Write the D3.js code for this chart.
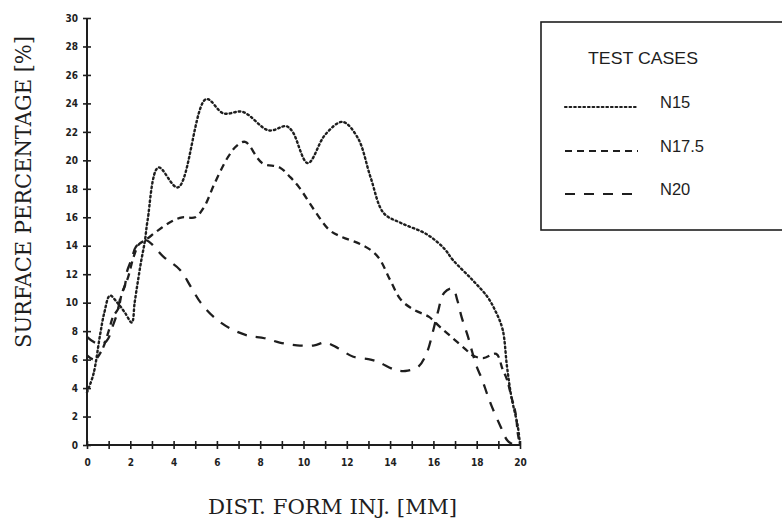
<!DOCTYPE html>
<html><head><meta charset="utf-8">
<script src="https://cdn.jsdelivr.net/npm/d3@7"></script>
<style>body{margin:0;background:#fff}svg{display:block}</style>
</head><body>
<svg id="c" width="782" height="520"></svg>
<script>
// ---- data ----
const n15X = [0,0.3,0.6,0.8,1.06,1.4,1.75,2.07,2.2,2.35,2.5,2.67,2.8,3.3,4.2,5.5,6.3,7.2,8.4,9.2,9.5,10.2,11.0,11.8,12.5,13.1,13.7,14.5,15.7,16.5,16.9,17.8,18.5,18.9,19.2,19.4,19.6,19.9,20];
const n15Y = [3.7,5.0,7.7,9.3,10.5,10.0,9.3,8.6,10.0,11.5,12.9,14.3,15.8,19.5,18.1,24.3,23.3,23.4,22.1,22.4,22.0,19.8,21.8,22.7,21.6,18.8,16.3,15.6,14.8,13.8,13.0,11.6,10.4,9.3,8.1,5.5,3.4,1.3,0];
const n175X = [0,0.35,0.7,1.0,1.2,1.45,1.6,1.9,2.15,2.4,2.7,3.3,3.9,4.4,5.0,5.4,5.9,6.5,6.9,7.3,8.1,8.9,9.4,9.8,10.5,11.2,11.8,12.5,13.1,13.5,14.0,14.5,15.1,15.8,16.3,16.9,17.5,17.8,18.3,18.9,19.2,19.4,19.6,19.8,19.9,20];
const n175Y = [6.3,6.0,6.7,8.0,9.0,9.6,10.6,11.8,13.2,14.1,14.4,15.1,15.7,16.0,16.0,16.7,18.4,20.2,21.0,21.3,19.8,19.5,18.8,18.1,16.5,15.1,14.6,14.2,13.7,13.1,11.6,10.2,9.5,9.0,8.3,7.5,6.7,6.3,6.1,6.4,5.3,4.6,3.4,2.2,0.8,0];
const n20X = [0,0.5,0.9,1.2,1.4,1.55,1.75,1.85,2.07,2.25,2.7,3.55,4.3,4.8,5.25,5.85,6.6,7.4,8.2,8.9,9.7,10.5,11.0,11.6,12.3,13.1,13.5,14.2,14.7,15.3,15.7,16.0,16.2,16.5,16.9,17.1,17.3,17.6,17.8,18.0,18.25,18.5,18.7,19.1,19.4,19.6,20];
const n20Y = [7.6,7.1,7.3,8.4,9.3,10.4,11.2,12.2,13.1,13.9,14.4,13.2,12.3,11.1,10.0,9.0,8.2,7.7,7.5,7.2,7.0,7.0,7.2,6.8,6.2,6.0,5.8,5.3,5.2,5.5,6.5,8.1,9.3,10.7,11.0,10.2,9.0,7.6,6.5,5.5,4.6,3.5,2.7,1.3,0.35,0.1,0];
const seriesNames = ["N15","N17.5","N20"];
const xTicks = [0,2,4,6,8,10,12,14,16,18,20];
const xMinorTicks = [0,1,2,3,4,5,6,7,8,9,10,11,12,13,14,15,16,17,18,19,20];
const yTicks = [0,2,4,6,8,10,12,14,16,18,20,22,24,26,28,30];
const xTitle = "DIST. FORM INJ. [MM]";
const yTitle = "SURFACE PERCENTAGE [%]";
const legendTitle = "TEST CASES";

// ---- drawing ----
const svg = d3.select("#c");
const ink = "#1e1e1e";
const x = d3.scaleLinear().domain([0,20]).range([87,520]);
const y = d3.scaleLinear().domain([0,30]).range([445,18]);
const dashes = ["1.6,3", "7,5", "10,9"];

const series = [
  {name: seriesNames[0], xs: n15X, ys: n15Y},
  {name: seriesNames[1], xs: n175X, ys: n175Y},
  {name: seriesNames[2], xs: n20X, ys: n20Y}
];

const line = d3.line().x(d=>x(d[0])).y(d=>y(d[1])).curve(d3.curveCatmullRom.alpha(0.5));
series.forEach((s,i)=>{
  const pts = s.xs.map((v,k)=>[v, s.ys[k]]);
  svg.append("path").attr("d", line(pts)).attr("fill","none")
    .attr("stroke", ink).attr("stroke-width", i===0?2.4:2.3)
    .attr("stroke-dasharray", dashes[i]).attr("stroke-linecap", i===0?"round":"butt");
});

// axes
const fontTick = "'DejaVu Sans Condensed','DejaVu Sans',sans-serif";
const yAxis = svg.append("g").attr("transform",`translate(${x(0)},0)`)
  .call(d3.axisLeft(y).tickValues(yTicks).tickSize(4).tickPadding(6).tickFormat(d3.format("d")));
yAxis.select(".domain").attr("d", `M0,${y(30)}V${y(0)}`).attr("stroke",ink).attr("stroke-width",2);
yAxis.selectAll(".tick line").attr("x1",4).attr("x2",-4).attr("stroke",ink).attr("stroke-width",1.6);
yAxis.selectAll(".tick text").attr("font-family",fontTick).attr("font-weight","bold").attr("font-size",10).attr("fill",ink).attr("x",-9);

const xAxisMinor = svg.append("g").attr("transform",`translate(0,${y(0)})`)
  .call(d3.axisBottom(x).tickValues(xMinorTicks).tickSize(4).tickFormat(""));
xAxisMinor.select(".domain").attr("d", `M${x(0)},0H${x(20)}`).attr("stroke",ink).attr("stroke-width",2);
xAxisMinor.selectAll(".tick line").attr("y1",-4).attr("y2",4).attr("stroke",ink).attr("stroke-width",1.6);
const xAxis = svg.append("g").attr("transform",`translate(0,${y(0)})`)
  .call(d3.axisBottom(x).tickValues(xTicks).tickSize(0).tickPadding(14).tickFormat(d3.format("d")));
xAxis.select(".domain").remove();
xAxis.selectAll(".tick text").attr("font-family",fontTick).attr("font-weight","bold").attr("font-size",10).attr("fill",ink);

// titles
svg.append("text").attr("x",208).attr("y",514).attr("font-family","'DejaVu Serif',serif").attr("font-size",20)
  .attr("fill",ink).attr("textLength",249).attr("lengthAdjust","spacingAndGlyphs").text(xTitle);
svg.append("text").attr("transform","translate(31,348) rotate(-90)").attr("font-family","'DejaVu Serif',serif").attr("font-size",23)
  .attr("fill",ink).attr("textLength",312).attr("lengthAdjust","spacingAndGlyphs").text(yTitle);

// legend
const lg = svg.append("g");
lg.append("rect").attr("x",541).attr("y",22).attr("width",260).attr("height",208)
  .attr("fill","none").attr("stroke",ink).attr("stroke-width",1.6);
lg.append("text").attr("x",588).attr("y",64).attr("font-family","'Liberation Sans',Arial,sans-serif").attr("font-size",16.5)
  .attr("fill",ink).attr("textLength",110).attr("lengthAdjust","spacingAndGlyphs").text(legendTitle);
const legYs = [107,151,194];
series.forEach((s,i)=>{
  lg.append("line").attr("x1",565).attr("x2",638).attr("y1",legYs[i]).attr("y2",legYs[i])
    .attr("stroke",ink).attr("stroke-width",2.2).attr("stroke-dasharray",dashes[i]).attr("stroke-linecap", i===0?"round":"butt");
  lg.append("text").attr("x",660).attr("y",legYs[i]+1).attr("font-family","'Liberation Sans',Arial,sans-serif").attr("font-size",16.5)
    .attr("fill",ink).text(s.name);
});
</script>
</body></html>
